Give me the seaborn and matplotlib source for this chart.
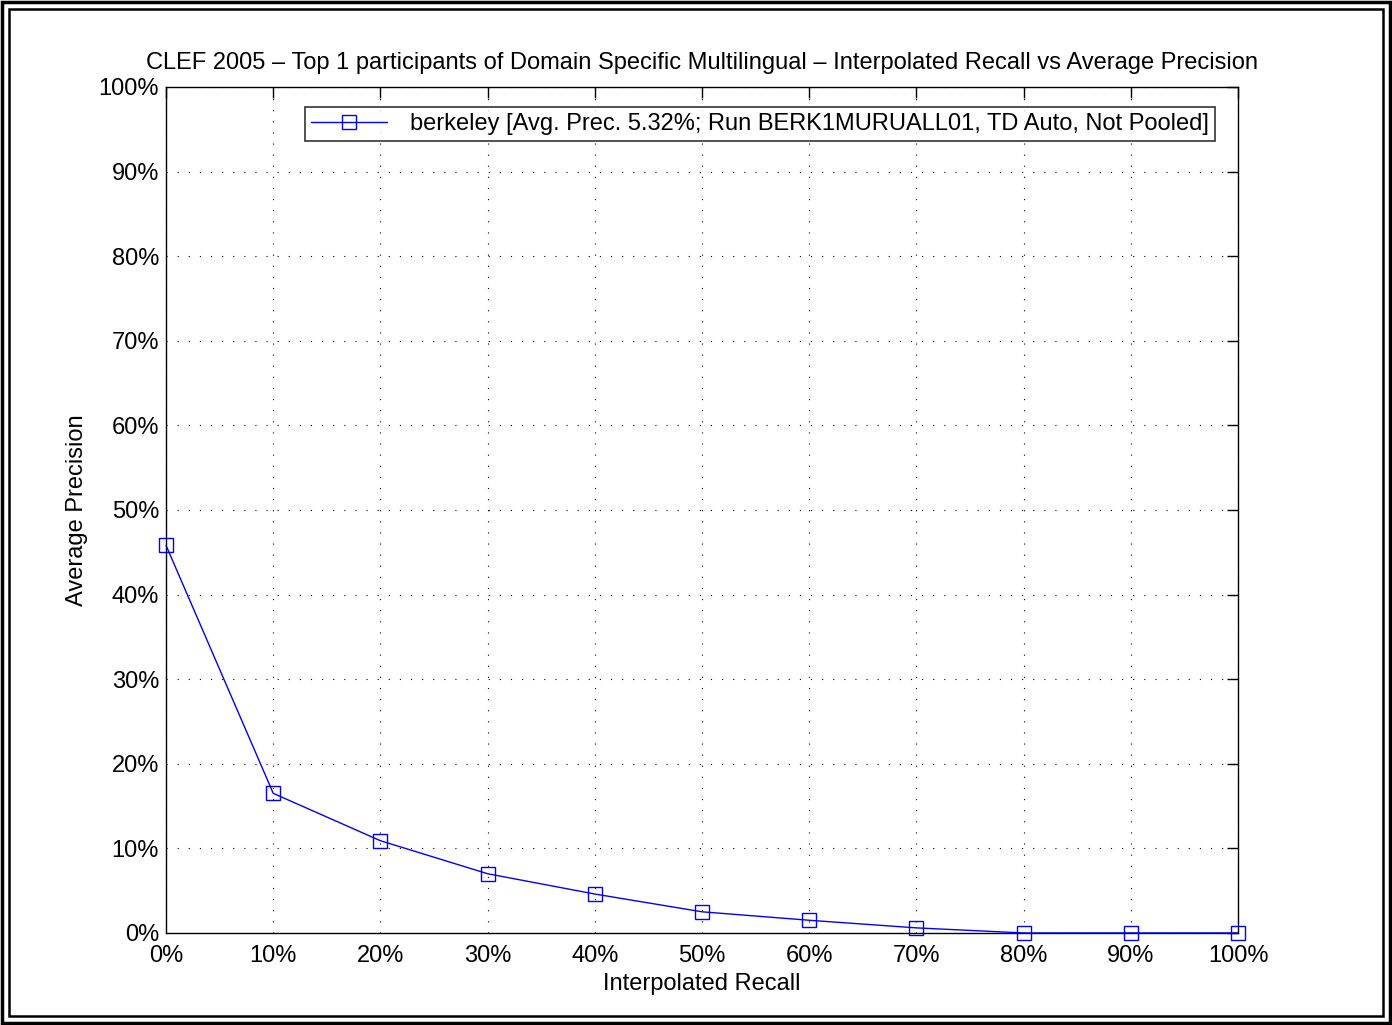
import matplotlib
matplotlib.use("Agg")
import matplotlib.pyplot as plt
import seaborn as sns
import pandas as pd
from matplotlib.patches import Rectangle
from matplotlib.ticker import FuncFormatter, MultipleLocator

recall = [0, 10, 20, 30, 40, 50, 60, 70, 80, 90, 100]
precision = [45.8, 16.5, 10.9, 7.0, 4.6, 2.5, 1.5, 0.6, 0.0, 0.0, 0.0]
series_label = "berkeley [Avg. Prec. 5.32%; Run BERK1MURUALL01, TD Auto, Not Pooled]"
title = "CLEF 2005 \u2013 Top 1 participants of Domain Specific Multilingual \u2013 Interpolated Recall vs Average Precision"

df = pd.DataFrame({"Recall": recall, "Precision": precision, "Run": series_label})

sns.set_style("white")
plt.rcParams["font.family"] = ["Liberation Sans", "DejaVu Sans"]
plt.rcParams["text.color"] = "black"
plt.rcParams["axes.labelcolor"] = "black"

fig = plt.figure(figsize=(13.92, 10.25), dpi=100)
ax = fig.add_axes([0.1193, 0.0898, 0.7701, 0.8254])

sns.lineplot(data=df, x="Recall", y="Precision", hue="Run", palette=["#0000ff"],
             marker="s", markersize=9.5, markerfacecolor="none", markeredgecolor="#0000ff",
             markeredgewidth=1.0, linewidth=1.0, ax=ax, legend=True, clip_on=False, zorder=5)

ax.set_xlim(0, 100)
ax.set_ylim(0, 100)
ax.xaxis.set_major_locator(MultipleLocator(10))
ax.yaxis.set_major_locator(MultipleLocator(10))
pct = FuncFormatter(lambda v, p: f"{int(round(v))}%")
ax.xaxis.set_major_formatter(pct)
ax.yaxis.set_major_formatter(pct)
ax.tick_params(direction="in", length=8, width=1, top=True, right=True, labelsize=17,
               colors="black")
ax.tick_params(axis="x", pad=8.5)
ax.tick_params(axis="y", pad=5)
ax.grid(True, linestyle=(0, (1, 9)), color="black", linewidth=0.8)
for s in ax.spines.values():
    s.set_color("black")
    s.set_linewidth(1.0)
    s.set_visible(True)

ax.set_xlabel("Interpolated Recall", fontsize=17, labelpad=4.5)
ax.set_ylabel("Average Precision", fontsize=17, labelpad=8)
ax.set_title(title, fontsize=17, pad=13, color="black")

leg = ax.legend(loc="upper right", bbox_to_anchor=(0.9785, 0.9764), fontsize=17,
                frameon=True, fancybox=False, edgecolor="black", handlelength=3.2,
                borderpad=0.25, handletextpad=1.0, borderaxespad=0)
leg.get_frame().set_linewidth(1.2)
for t in leg.get_texts():
    t.set_color("black")

# figure double border
fig.patches.append(Rectangle((0.0015, 0.002), 0.997, 0.996, transform=fig.transFigure,
                             fill=False, edgecolor="black", linewidth=2.5))
fig.patches.append(Rectangle((0.0065, 0.0085), 0.987, 0.983, transform=fig.transFigure,
                             fill=False, edgecolor="black", linewidth=1.8))

fig.savefig("out.png", dpi=100, facecolor="white")
